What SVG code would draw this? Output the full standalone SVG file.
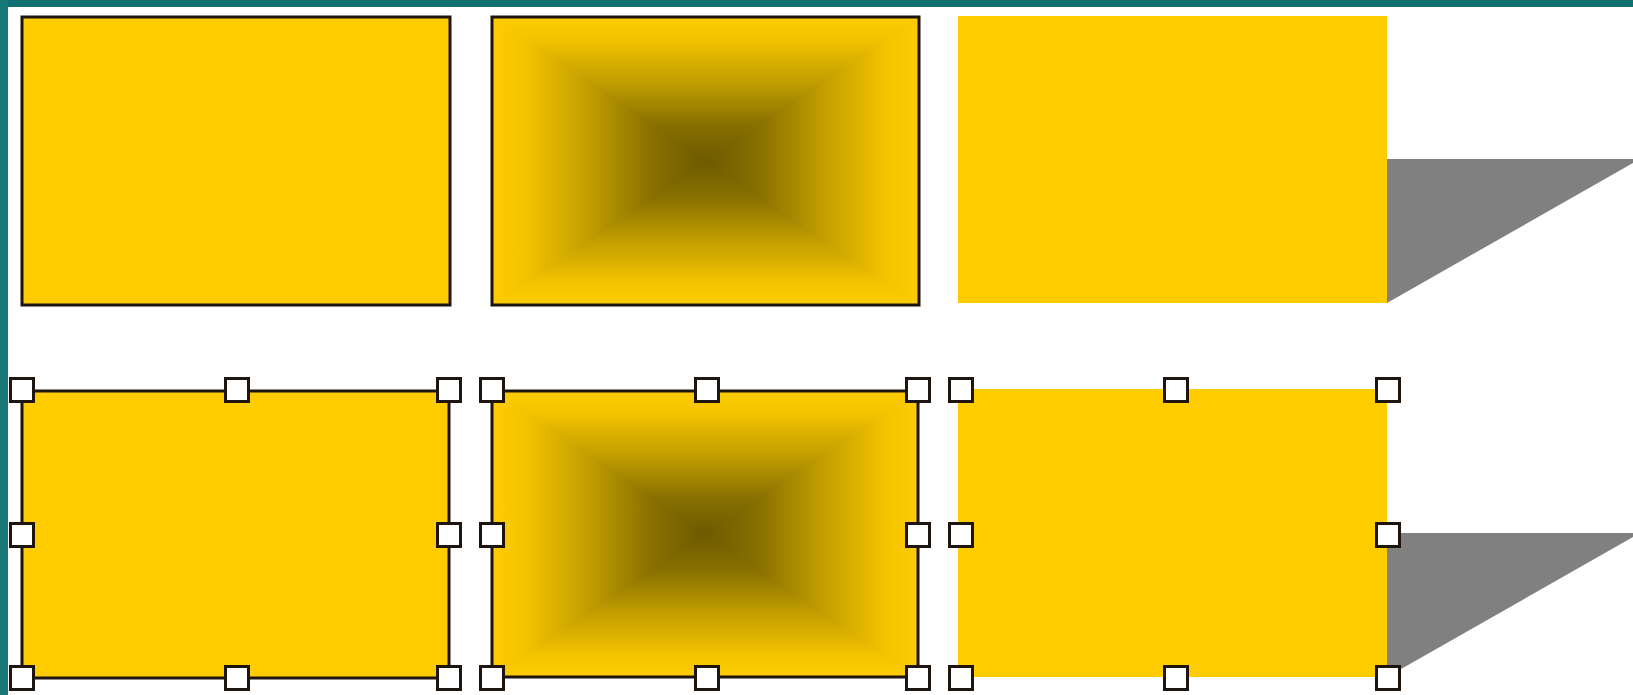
<svg xmlns="http://www.w3.org/2000/svg" width="1633" height="695" viewBox="0 0 1633 695">
<style>
.fill{fill:#ffcc00}
.outline{fill:#ffcc00;stroke:#1e1410;stroke-width:3}
.frame{fill:none;stroke:#1e1410;stroke-width:3}
.handle{fill:#ffffff;stroke:#1e1410;stroke-width:3}
.shadow{fill:#808080}
.gt{fill:url(#gT);stroke:url(#gT);stroke-width:1.5}
.gb{fill:url(#gB);stroke:url(#gB);stroke-width:1.5}
.gl{fill:url(#gL);stroke:url(#gL);stroke-width:1.5}
.gr{fill:url(#gR);stroke:url(#gR);stroke-width:1.5}
</style>
<defs>
<linearGradient id="gT" x1="0" y1="0" x2="0" y2="1">
<stop offset="0" stop-color="#ffcc00"/><stop offset="0.15" stop-color="#f4c400"/><stop offset="0.45" stop-color="#c29e00"/><stop offset="0.75" stop-color="#887000"/><stop offset="1" stop-color="#6e5a00"/>
</linearGradient>
<linearGradient id="gB" x1="0" y1="1" x2="0" y2="0">
<stop offset="0" stop-color="#ffcc00"/><stop offset="0.15" stop-color="#f4c400"/><stop offset="0.45" stop-color="#c29e00"/><stop offset="0.75" stop-color="#887000"/><stop offset="1" stop-color="#6e5a00"/>
</linearGradient>
<linearGradient id="gL" x1="0" y1="0" x2="1" y2="0">
<stop offset="0" stop-color="#ffcc00"/><stop offset="0.15" stop-color="#f4c400"/><stop offset="0.45" stop-color="#c29e00"/><stop offset="0.75" stop-color="#887000"/><stop offset="1" stop-color="#6e5a00"/>
</linearGradient>
<linearGradient id="gR" x1="1" y1="0" x2="0" y2="0">
<stop offset="0" stop-color="#ffcc00"/><stop offset="0.15" stop-color="#f4c400"/><stop offset="0.45" stop-color="#c29e00"/><stop offset="0.75" stop-color="#887000"/><stop offset="1" stop-color="#6e5a00"/>
</linearGradient>
<rect id="h" class="handle" x="-11.5" y="-11.5" width="23" height="23"/>
</defs>
<rect width="1633" height="695" fill="#ffffff"/>
<rect x="0" y="0" width="1633" height="7" fill="#137070"/>
<rect x="0" y="0" width="8" height="695" fill="#177777"/>

<g id="connectors"></g>

<g id="rect-plain-top">
<rect class="outline" x="22" y="17" width="428" height="288"/>
</g>

<g id="rect-gradient-top">
<polygon class="gl" points="492,17 705.5,161 492,305"/>
<polygon class="gr" points="919,17 705.5,161 919,305"/>
<polygon class="gt" points="492,17 919,17 705.5,161"/>
<polygon class="gb" points="492,305 919,305 705.5,161"/>
<rect class="frame" x="492" y="17" width="427" height="288"/>
</g>

<g id="rect-shadow-top">
<polygon class="shadow" points="1387,159 1640,159 1387,303"/>
<rect class="fill" x="958" y="16" width="429" height="287"/>
</g>

<g id="rect-plain-selected">
<rect class="outline" x="22" y="391" width="427" height="287"/>
<use href="#h" x="22" y="390"/><use href="#h" x="237" y="390"/><use href="#h" x="449" y="390"/>
<use href="#h" x="22" y="535"/><use href="#h" x="449" y="535"/>
<use href="#h" x="22" y="678"/><use href="#h" x="237" y="678"/><use href="#h" x="449" y="678"/>
</g>

<g id="rect-gradient-selected">
<polygon class="gl" points="492,391 705,534 492,677"/>
<polygon class="gr" points="918,391 705,534 918,677"/>
<polygon class="gt" points="492,391 918,391 705,534"/>
<polygon class="gb" points="492,677 918,677 705,534"/>
<rect class="frame" x="492" y="391" width="426" height="286"/>
<use href="#h" x="492" y="390"/><use href="#h" x="707" y="390"/><use href="#h" x="918" y="390"/>
<use href="#h" x="492" y="535"/><use href="#h" x="918" y="535"/>
<use href="#h" x="492" y="678"/><use href="#h" x="707" y="678"/><use href="#h" x="918" y="678"/>
</g>

<g id="rect-shadow-selected">
<polygon class="shadow" points="1387,533 1640,533 1387,677"/>
<rect class="fill" x="958" y="389" width="429" height="288"/>
<use href="#h" x="961" y="390"/><use href="#h" x="1176" y="390"/><use href="#h" x="1388" y="390"/>
<use href="#h" x="961" y="535"/><use href="#h" x="1388" y="535"/>
<use href="#h" x="961" y="678"/><use href="#h" x="1176" y="678"/><use href="#h" x="1388" y="678"/>
</g>
</svg>
